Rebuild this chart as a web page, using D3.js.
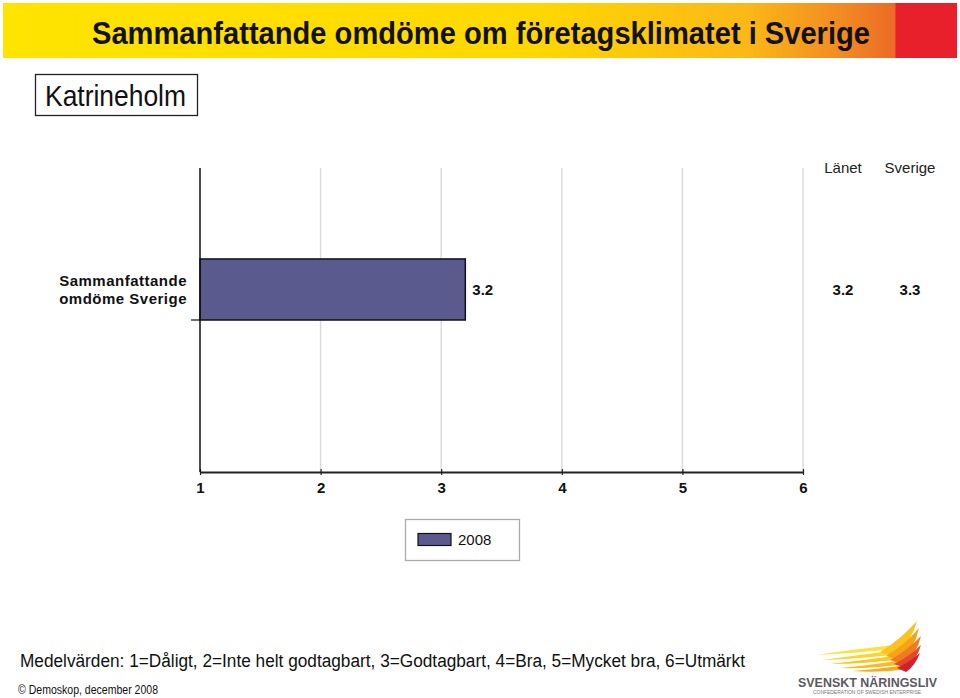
<!DOCTYPE html>
<html><head><meta charset="utf-8">
<script src="https://cdn.jsdelivr.net/npm/d3@7"></script>
<style>body{margin:0;background:#fff}svg{display:block}</style>
</head><body>
<svg id="c" width="960" height="698"></svg>
<script>
const title = "Sammanfattande omdöme om företagsklimatet i Sverige";
const region = "Katrineholm";
const categories = ["Sammanfattande omdöme Sverige"];
const categoryLines = [["Sammanfattande", "omdöme Sverige"]];
const seriesSlots = ["2008", ""];
const values2008 = [3.2];
const lanValues = [3.2];
const sverigeValues = [3.3];
const xTicks = [1, 2, 3, 4, 5, 6];
const legendLabels = ["2008"];
const note = "Medelvärden: 1=Dåligt, 2=Inte helt godtagbart, 3=Godtagbart, 4=Bra, 5=Mycket bra, 6=Utmärkt";
const copyright = "© Demoskop, december 2008";

(function(){
const svg = d3.select("#c");
const narrow = "'Liberation Sans Narrow','Arial Narrow','Liberation Sans',Arial,sans-serif";
const sans = "'Liberation Sans',Arial,Helvetica,sans-serif";

// header banner
const defs = svg.append("defs");
const g = defs.append("linearGradient").attr("id","hdr").attr("x1","0").attr("x2","1");
[[0,"#ffe400"],[0.55,"#ffd800"],[0.78,"#fbb817"],[0.88,"#f28a22"],[0.935,"#ec6a26"],[0.936,"#e8202c"],[1,"#e8202c"]]
  .forEach(([o,c])=>g.append("stop").attr("offset",o).attr("stop-color",c));
svg.append("rect").attr("x",3).attr("y",3).attr("width",954).attr("height",55).attr("fill","url(#hdr)");
svg.append("text").attr("x",92).attr("y",44).attr("textLength",778).attr("lengthAdjust","spacingAndGlyphs")
  .attr("font-family",narrow).attr("font-weight","bold").attr("font-size",32).attr("fill","#111").text(title);

// region box
svg.append("rect").attr("x",35.5).attr("y",74.5).attr("width",162).attr("height",41).attr("fill","#fff").attr("stroke","#222").attr("stroke-width",1.3);
svg.append("text").attr("x",45).attr("y",106).attr("textLength",141).attr("lengthAdjust","spacingAndGlyphs")
  .attr("font-family",narrow).attr("font-size",30).attr("fill","#111").text(region);

// chart
const pL = 200, pR = 803, pT = 168, pB = 472;
const x = d3.scaleLinear().domain([1, 6]).range([pL, pR]);
const y0 = d3.scaleBand().domain(categories).range([pT, pB]);
const y1 = d3.scaleBand().domain(seriesSlots).range([0, y0.bandwidth()]).paddingInner(0).paddingOuter(1.49);

// gridlines
svg.append("g").selectAll("line").data(xTicks.slice(1)).join("line")
  .attr("x1",d=>x(d)).attr("x2",d=>x(d)).attr("y1",pT).attr("y2",pB)
  .attr("stroke","#dcdcdc").attr("stroke-width",1.5);

// bars
svg.append("g").selectAll("rect").data(categories).join("rect")
  .attr("x",x(1)).attr("y",(d)=>y0(d)+y1("2008"))
  .attr("width",(d,i)=>x(values2008[i])-x(1)).attr("height",y1.bandwidth())
  .attr("fill","#5b5a8e").attr("stroke","#111").attr("stroke-width",1.5);

// value labels
svg.append("g").selectAll("text").data(categories).join("text")
  .attr("x",(d,i)=>x(values2008[i])+7).attr("y",d=>y0(d)+y1("2008")+y1.bandwidth()/2+6)
  .attr("font-family",sans).attr("font-weight","bold").attr("font-size",15).attr("fill","#111")
  .text((d,i)=>values2008[i].toFixed(1));

// category labels
categories.forEach((c,i)=>{
  const cy = y0(c)+y1("2008")+y1.bandwidth()/2;
  const t = svg.append("text").attr("text-anchor","end").attr("font-family",sans).attr("font-weight","bold")
    .attr("font-size",15).attr("fill","#111").attr("letter-spacing",0.5);
  categoryLines[i].forEach((ln,j)=>t.append("tspan").attr("x",187).attr("y",cy-3+j*18).text(ln));
});

// x axis
const xAxis = svg.append("g").attr("transform",`translate(0,${pB})`)
  .call(d3.axisBottom(x).tickValues(xTicks).tickSize(5).tickFormat(d3.format("d")));
xAxis.select(".domain").attr("stroke","#222").attr("stroke-width",2).attr("d",`M${pL},0.5H${pR}`);
xAxis.selectAll(".tick line").attr("stroke","#222").attr("stroke-width",1.2).attr("y1",-3).attr("y2",3);
xAxis.selectAll(".tick text").attr("y",10).attr("font-family",sans).attr("font-weight","bold").attr("font-size",15).attr("fill","#111");

// y axis line + tick
svg.append("line").attr("x1",pL).attr("x2",pL).attr("y1",pT).attr("y2",pB).attr("stroke","#111").attr("stroke-width",1.5);
svg.append("g").selectAll("line").data(categories).join("line")
  .attr("x1",pL-9).attr("x2",pL).attr("y1",d=>y0(d)+y0.bandwidth()/2).attr("y2",d=>y0(d)+y0.bandwidth()/2)
  .attr("stroke","#111").attr("stroke-width",1.2);

// right-side comparison columns
const cols = [{label:"Länet", vals:lanValues, cx:843},{label:"Sverige", vals:sverigeValues, cx:910}];
cols.forEach(col=>{
  svg.append("text").attr("x",col.cx).attr("y",173).attr("text-anchor","middle").attr("font-family",sans)
    .attr("font-size",15).attr("fill","#222").text(col.label);
  categories.forEach((c,i)=>{
    svg.append("text").attr("x",col.cx).attr("y",y0(c)+y1("2008")+y1.bandwidth()/2+6).attr("text-anchor","middle")
      .attr("font-family",sans).attr("font-weight","bold").attr("font-size",15).attr("fill","#111").text(col.vals[i].toFixed(1));
  });
});

// legend
svg.append("rect").attr("x",405.5).attr("y",519.5).attr("width",114).attr("height",41).attr("fill","#fff").attr("stroke","#aaa").attr("stroke-width",1.3);
legendLabels.forEach((l,i)=>{
  svg.append("rect").attr("x",418).attr("y",533.5).attr("width",33).attr("height",12).attr("fill","#5b5a8e").attr("stroke","#111").attr("stroke-width",1.2);
  svg.append("text").attr("x",458).attr("y",545).attr("font-family",sans).attr("font-size",15).attr("fill","#111").text(l);
});

// footer
svg.append("text").attr("x",20).attr("y",667).attr("textLength",725).attr("lengthAdjust","spacingAndGlyphs")
  .attr("font-family",narrow).attr("font-size",18).attr("fill","#111").text(note);
svg.append("text").attr("x",18).attr("y",694).attr("textLength",140).attr("lengthAdjust","spacingAndGlyphs")
  .attr("font-family",narrow).attr("font-size",12).attr("fill","#111").text(copyright);

// logo: feather streaks converging to the upper right
const logo = svg.append("g");
const streaks = [
  [816,655,"#fde23a"],[822,660,"#fdd52c"],[830,664,"#fcc824"],[840,668,"#fbbb1e"],[852,671,"#f8ab1a"]
];
streaks.forEach(([sx,sy,c],i)=>{
  const ex = 895+i*3, ey = 648+i*5;
  logo.append("path").attr("d",`M${sx},${sy} Q${(sx+ex)/2},${sy-6+i} ${ex},${ey-3} L${ex+2},${ey+1} Q${(sx+ex)/2},${sy-2+i} ${sx},${sy}Z`).attr("fill",c);
});
const wings = [
  ["M880,652 Q900,640 917,621 Q912,640 896,656Z","#fcc21e"],
  ["M886,656 Q905,645 919,628 Q915,648 900,660Z","#f6a21a"],
  ["M890,660 Q908,650 921,636 Q917,654 903,664Z","#ee7d1f"],
  ["M894,664 Q910,656 921,645 Q917,660 905,668Z","#e4482a"],
  ["M897,668 Q911,661 920,653 Q915,666 906,672Z","#d1202f"]
];
wings.forEach(([d,c])=>logo.append("path").attr("d",d).attr("fill",c));
logo.append("text").attr("x",798).attr("y",687).attr("textLength",139).attr("lengthAdjust","spacingAndGlyphs")
  .attr("font-family",sans).attr("font-weight","bold").attr("font-size",13).attr("fill","#5a5a60").text("SVENSKT NÄRINGSLIV");
logo.append("text").attr("x",813).attr("y",694).attr("textLength",108).attr("lengthAdjust","spacingAndGlyphs")
  .attr("font-family",sans).attr("font-size",4.5).attr("fill","#777").text("CONFEDERATION OF SWEDISH ENTERPRISE");
})();
</script>
</body></html>
